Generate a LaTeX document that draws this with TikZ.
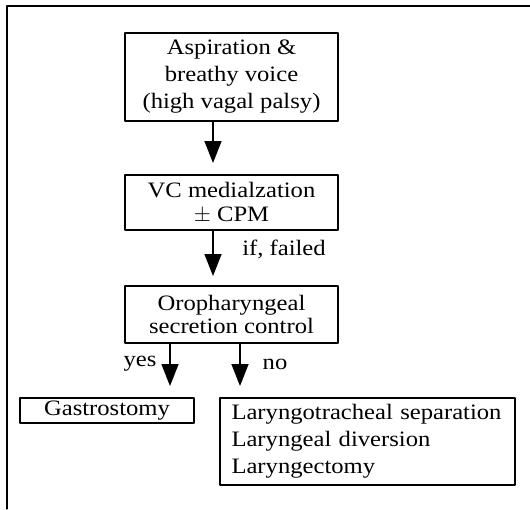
\documentclass[tikz,border=0pt]{standalone}
\usepackage{fontspec}
\setmainfont{Liberation Serif}[FakeStretch=1.12]
\usetikzlibrary{arrows.meta}

\tikzset{
  box/.style={draw, line width=0.6pt, inner sep=0pt, align=center,
    font=\fontsize{11}{13.5}\selectfont},
  lbl/.style={inner sep=0pt, font=\fontsize{11}{13.5}\selectfont},
  flow/.style={-{Triangle[width=8.5pt,length=11pt]}, line width=0.8pt},
}

\begin{document}
\begin{tikzpicture}[line cap=round,line join=round,x=0.5pt,y=-0.5pt]
\useasboundingbox (0,0) rectangle (530,509);
% frame
\draw [line width=0.6pt] (7,509)-- (7,6)-- (530,6);
% boxes
\node [box, minimum width=106.5pt, minimum height=44pt] (asp) at (231.5,77)
  {Aspiration \&\\breathy voice\\(high vagal palsy)};
\node [box, minimum width=106.5pt, minimum height=27.5pt,
  font=\fontsize{11}{12}\selectfont] (med) at (231.5,202.5)
  {VC medialzation\\$\pm$ CPM};
\node [box, minimum width=106.5pt, minimum height=28.5pt,
  font=\fontsize{11}{11.5}\selectfont] (oro) at (231.5,314.5)
  {Oropharyngeal\\secretion control};
\node [box, minimum width=87pt, minimum height=12.5pt] (gas) at (107,410.5)
  {Gastrostomy};
\node [box, minimum width=147.5pt, minimum height=43.5pt, align=left,
  text width=136pt, inner xsep=5.5pt] (lar) at (367.5,441.5)
  {Laryngotracheal separation\\Laryngeal diversion\\Laryngectomy};
% arrow ends
\coordinate (tipA) at (213,163);
\coordinate (tipB) at (213,276);
\coordinate (tipY) at (170,386);
\coordinate (tipN) at (240,386);
\draw [flow] (asp.south -| tipA) -- (tipA);
\draw [flow] (med.south -| tipB) -- (tipB);
\draw [flow] (oro.south -| tipY) -- (tipY);
\draw [flow] (oro.south -| tipN) -- (tipN);
% labels
\node [lbl] (fail) at (284,249) {if, failed};
\node [lbl] (yes) at (140,364) {yes};
\node [lbl] (no) at (275,364) {no};
\end{tikzpicture}
\end{document}
